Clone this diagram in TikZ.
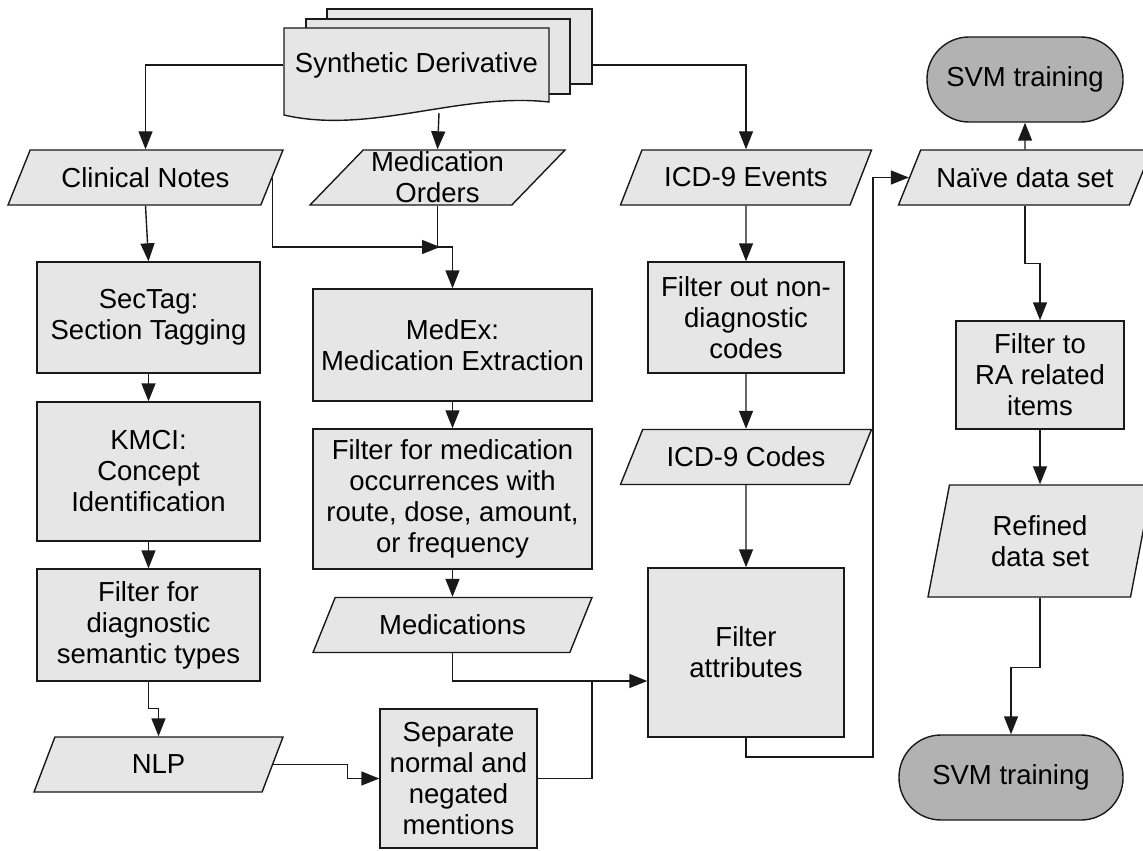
\documentclass[tikz,border=0pt]{standalone}
\usepackage{fontspec}
\setmainfont{Liberation Sans}
\usetikzlibrary{arrows.meta, shapes.geometric}
\definecolor{boxgray}{RGB}{230,230,230}
\definecolor{termgray}{RGB}{178,178,178}
\definecolor{linegray}{RGB}{25,25,25}

\begin{document}
\begin{tikzpicture}[x=1pt, y=-1pt, line width=1.4pt,
  font=\fontsize{27.5}{31}\selectfont,
  arr/.style={draw=linegray, -{Triangle[length=18pt,width=14pt]}},
  conn/.style={draw=linegray},
  proc/.style={draw=linegray, fill=boxgray, align=center, inner sep=2pt},
  io/.style={draw=linegray, fill=boxgray, align=center, trapezium, trapezium left angle=45,
    trapezium right angle=135, trapezium stretches body, inner sep=1pt, minimum height=55pt},
  term/.style={draw=linegray, fill=termgray, rounded corners=42pt, minimum height=85pt, align=center}]
\useasboundingbox (0,0) rectangle (1143,851);

% stacked documents
\filldraw[draw=linegray, fill=boxgray] (327,9) rectangle (592,84);
\filldraw[draw=linegray, fill=boxgray] (306,19) rectangle (570,94);
\filldraw[draw=linegray, fill=boxgray] (284,28) -- (549,28) -- (549,102)
  .. controls (460,92) and (370,135) .. (284,115) -- cycle;
\node[minimum width=265pt, minimum height=74pt, inner sep=0pt] (sd) at (416.5,65) {Synthetic Derivative};
\coordinate (sdb) at (439,113);
\coordinate (sdback) at (592,65);

% inputs
\node[io, minimum width=275pt] (cn) at (145.5,177.5) {Clinical Notes};
\node[io, minimum width=255pt] (mo) at (437.5,177.5) {Medication\\Orders};
\node[io, minimum width=251pt] (icde) at (746,177.5) {ICD-9 Events};

% left column
\node[proc, minimum width=223pt, minimum height=111pt] (sectag) at (148.5,317.5) {SecTag:\\Section Tagging};
\node[proc, minimum width=223pt, minimum height=139pt] (kmci) at (148.5,471.5) {KMCI:\\Concept\\Identification};
\node[proc, minimum width=223pt, minimum height=112pt] (fdiag) at (148.5,625) {Filter for\\diagnostic\\semantic types};
\node[io, minimum width=249pt] (nlp) at (158.5,764.5) {NLP};
\node[proc, minimum width=157pt, minimum height=139pt] (sep) at (458.5,778.5) {Separate\\normal and\\negated\\mentions};

% middle column
\node[proc, minimum width=279pt, minimum height=112pt] (medex) at (452.5,345) {MedEx:\\Medication Extraction};
\node[proc, minimum width=279pt, minimum height=140pt] (fmed) at (452.5,499) {Filter for medication\\occurrences with\\route, dose, amount,\\or frequency};
\node[io, minimum width=279pt] (med) at (452.5,625) {Medications};

% icd column
\node[proc, minimum width=196pt, minimum height=111pt] (fnon) at (746,317.5) {Filter out non-\\diagnostic\\codes};
\node[io, minimum width=251pt] (icdc) at (746,457) {ICD-9 Codes};
\node[proc, minimum width=196pt, minimum height=169pt] (fa) at (746,652.5) {Filter\\attributes};

% right column
\node[term, minimum width=196pt] (svm1) at (1025,79.5) {SVM training};
\node[io, minimum width=253pt] (naive) at (1025,177.5) {Naïve data set};
\node[proc, minimum width=168pt, minimum height=108pt] (ra) at (1040,375) {Filter to\\RA related\\items};
\node[io, trapezium left angle=68, trapezium right angle=112, minimum width=224pt, minimum height=112pt] (ref) at (1040,541) {Refined\\data set};
\node[term, minimum width=224pt] (svm2) at (1011,777.5) {SVM training};

\coordinate (j1) at (440,247);
\coordinate (jm) at (592,681);
\coordinate (jf) at (873,757);

\draw[arr] (sd.west) -| (cn.north);
\draw[arr] (sdb) -- (mo.north);
\draw[arr] (sdback) -| (icde.north);
\draw[arr] (cn.south) -- (sectag.north);
\draw[arr] (cn.east) |- (j1);
\draw[arr] (mo.south) -- (mo.south |- j1) -| (medex.north);
\draw[arr] (sectag) -- (kmci);
\draw[arr] (kmci) -- (fdiag);
\draw[arr] (fdiag.south) -- ++(0,27) -| (nlp.north);
\draw[arr] (nlp.east) -- ++(74,0) |- (sep.west);
\draw[arr] (medex) -- (fmed);
\draw[arr] (fmed) -- (med);
\draw[arr] (med.south) |- (jm) -- (jm -| fa.west);
\draw[conn] (sep.east) -| (jm);
\draw[arr] (icde) -- (fnon);
\draw[arr] (fnon) -- (icdc);
\draw[arr] (icdc) -- (fa);
\draw[arr] (fa.south) |- (jf) |- (naive.west);
\draw[arr] (naive) -- (svm1);
\draw[arr] (naive.south) -- ++(0,58) -| (ra.north);
\draw[arr] (ra) -- (ref);
\draw[arr] (ref.south) -- ++(0,70) -| (svm2.north);
\end{tikzpicture}
\end{document}
